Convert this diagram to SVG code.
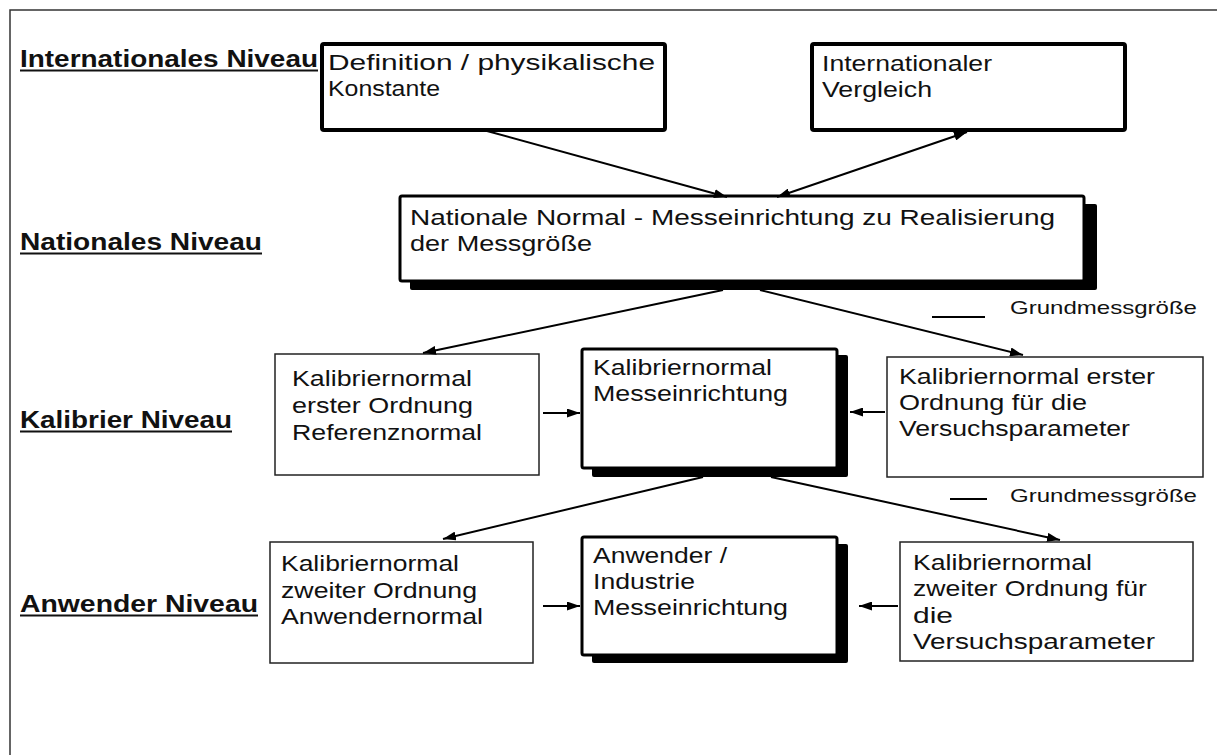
<svg xmlns="http://www.w3.org/2000/svg" width="1217" height="755" viewBox="0 0 1217 755">
<defs>
<style>
.bg{fill:#fff}
.frame{fill:none;stroke:#333;stroke-width:1.5}
.lvl{font-family:"Liberation Sans",Arial,sans-serif;font-weight:bold;font-size:23px;fill:#111}
.ul{stroke:#111;stroke-width:1.8}
.t{font-family:"Liberation Sans",Arial,sans-serif;font-size:22.5px;fill:#111}
.s{font-family:"Liberation Sans",Arial,sans-serif;font-size:19px;fill:#111}
.thick{fill:#fff;stroke:#000;stroke-width:4}
.med{fill:#fff;stroke:#000;stroke-width:3}
.thin{fill:#fff;stroke:#222;stroke-width:1.5}
.shadow{fill:#000}
.con{fill:none;stroke:#000;stroke-width:2}
</style>
<marker id="ah" viewBox="0 0 13 9" refX="13" refY="4.5" markerWidth="13" markerHeight="9" markerUnits="userSpaceOnUse" orient="auto-start-reverse">
<path d="M0,0 L13,4.5 L0,9 z" fill="#000"/>
</marker>
</defs>
<rect class="bg" x="0" y="0" width="1217" height="755"/>
<path class="frame" d="M10,755 L10,10 L1217,10"/>

<g id="levels">
<text class="lvl" x="20" y="67" textLength="298" lengthAdjust="spacingAndGlyphs">Internationales Niveau</text>
<line class="ul" x1="20" y1="70.5" x2="318" y2="70.5"/>
<text class="lvl" x="20" y="250" textLength="242" lengthAdjust="spacingAndGlyphs">Nationales Niveau</text>
<line class="ul" x1="20" y1="253.5" x2="262" y2="253.5"/>
<text class="lvl" x="20" y="428" textLength="212" lengthAdjust="spacingAndGlyphs">Kalibrier Niveau</text>
<line class="ul" x1="20" y1="431.5" x2="232" y2="431.5"/>
<text class="lvl" x="20" y="612" textLength="238" lengthAdjust="spacingAndGlyphs">Anwender Niveau</text>
<line class="ul" x1="20" y1="615.5" x2="258" y2="615.5"/>
</g>

<g id="n-definition">
<rect class="thick" x="322" y="44" width="343" height="86" rx="2"/>
<text class="t" x="328" y="70" textLength="327" lengthAdjust="spacingAndGlyphs">Definition / physikalische</text>
<text class="t" x="328" y="96" textLength="112" lengthAdjust="spacingAndGlyphs">Konstante</text>
</g>

<g id="n-vergleich">
<rect class="thick" x="812" y="44" width="313" height="86" rx="2"/>
<text class="t" x="822" y="71" textLength="170" lengthAdjust="spacingAndGlyphs">Internationaler</text>
<text class="t" x="822" y="97" textLength="110" lengthAdjust="spacingAndGlyphs">Vergleich</text>
</g>

<g id="n-national">
<rect class="shadow" x="410" y="204" width="687" height="86" rx="2"/>
<rect class="med" x="400" y="196" width="684" height="85" rx="2"/>
<text class="t" x="410" y="225" textLength="645" lengthAdjust="spacingAndGlyphs">Nationale Normal - Messeinrichtung zu Realisierung</text>
<text class="t" x="410" y="251" textLength="182" lengthAdjust="spacingAndGlyphs">der Messgröße</text>
</g>

<g id="legend1">
<line class="con" x1="932" y1="317" x2="985" y2="317"/>
<text class="s" x="1010" y="314" textLength="187" lengthAdjust="spacingAndGlyphs">Grundmessgröße</text>
</g>

<g id="n-k1">
<rect class="thin" x="275" y="354" width="264" height="121"/>
<text class="t" x="292" y="386" textLength="180" lengthAdjust="spacingAndGlyphs">Kalibriernormal</text>
<text class="t" x="292" y="413" textLength="181" lengthAdjust="spacingAndGlyphs">erster Ordnung</text>
<text class="t" x="292" y="440" textLength="190" lengthAdjust="spacingAndGlyphs">Referenznormal</text>
</g>

<g id="n-k2">
<rect class="shadow" x="592" y="355" width="256" height="122" rx="2"/>
<rect class="med" x="582" y="349" width="255" height="119" rx="2"/>
<text class="t" x="593" y="375" textLength="179" lengthAdjust="spacingAndGlyphs">Kalibriernormal</text>
<text class="t" x="593" y="401" textLength="195" lengthAdjust="spacingAndGlyphs">Messeinrichtung</text>
</g>

<g id="n-k3">
<rect class="thin" x="887" y="357" width="316" height="120"/>
<text class="t" x="899" y="384" textLength="256" lengthAdjust="spacingAndGlyphs">Kalibriernormal erster</text>
<text class="t" x="899" y="410" textLength="188" lengthAdjust="spacingAndGlyphs">Ordnung für die</text>
<text class="t" x="899" y="436" textLength="231" lengthAdjust="spacingAndGlyphs">Versuchsparameter</text>
</g>

<g id="legend2">
<line class="con" x1="950" y1="499" x2="987" y2="499"/>
<text class="s" x="1010" y="502" textLength="187" lengthAdjust="spacingAndGlyphs">Grundmessgröße</text>
</g>

<g id="n-k4">
<rect class="thin" x="270" y="542" width="263" height="121"/>
<text class="t" x="281" y="571" textLength="178" lengthAdjust="spacingAndGlyphs">Kalibriernormal</text>
<text class="t" x="281" y="598" textLength="196" lengthAdjust="spacingAndGlyphs">zweiter Ordnung</text>
<text class="t" x="281" y="624" textLength="202" lengthAdjust="spacingAndGlyphs">Anwendernormal</text>
</g>

<g id="n-k5">
<rect class="shadow" x="592" y="544" width="256" height="119" rx="2"/>
<rect class="med" x="582" y="537" width="255" height="118" rx="2"/>
<text class="t" x="593" y="563" textLength="134" lengthAdjust="spacingAndGlyphs">Anwender /</text>
<text class="t" x="593" y="589" textLength="102" lengthAdjust="spacingAndGlyphs">Industrie</text>
<text class="t" x="593" y="615" textLength="195" lengthAdjust="spacingAndGlyphs">Messeinrichtung</text>
</g>

<g id="n-k6">
<rect class="thin" x="900" y="542" width="293" height="119"/>
<text class="t" x="913" y="570" textLength="179" lengthAdjust="spacingAndGlyphs">Kalibriernormal</text>
<text class="t" x="913" y="596" textLength="234" lengthAdjust="spacingAndGlyphs">zweiter Ordnung für</text>
<text class="t" x="913" y="623" textLength="40" lengthAdjust="spacingAndGlyphs">die</text>
<text class="t" x="913" y="649" textLength="242" lengthAdjust="spacingAndGlyphs">Versuchsparameter</text>
</g>

<g id="connectors">
<line class="con" x1="487" y1="131" x2="727" y2="197" marker-end="url(#ah)"/>
<line class="con" x1="777" y1="197" x2="967" y2="132" marker-start="url(#ah)" marker-end="url(#ah)"/>
<line class="con" x1="723" y1="290" x2="423" y2="353" marker-end="url(#ah)"/>
<line class="con" x1="760" y1="290" x2="1023" y2="355" marker-end="url(#ah)"/>
<line class="con" x1="543" y1="413" x2="580" y2="413" marker-end="url(#ah)"/>
<line class="con" x1="885" y1="412" x2="850" y2="412" marker-end="url(#ah)"/>
<line class="con" x1="703" y1="477" x2="443" y2="539" marker-end="url(#ah)"/>
<line class="con" x1="771" y1="477" x2="1060" y2="540" marker-end="url(#ah)"/>
<line class="con" x1="543" y1="606" x2="580" y2="606" marker-end="url(#ah)"/>
<line class="con" x1="898" y1="606" x2="859" y2="606" marker-end="url(#ah)"/>
</g>
</svg>
